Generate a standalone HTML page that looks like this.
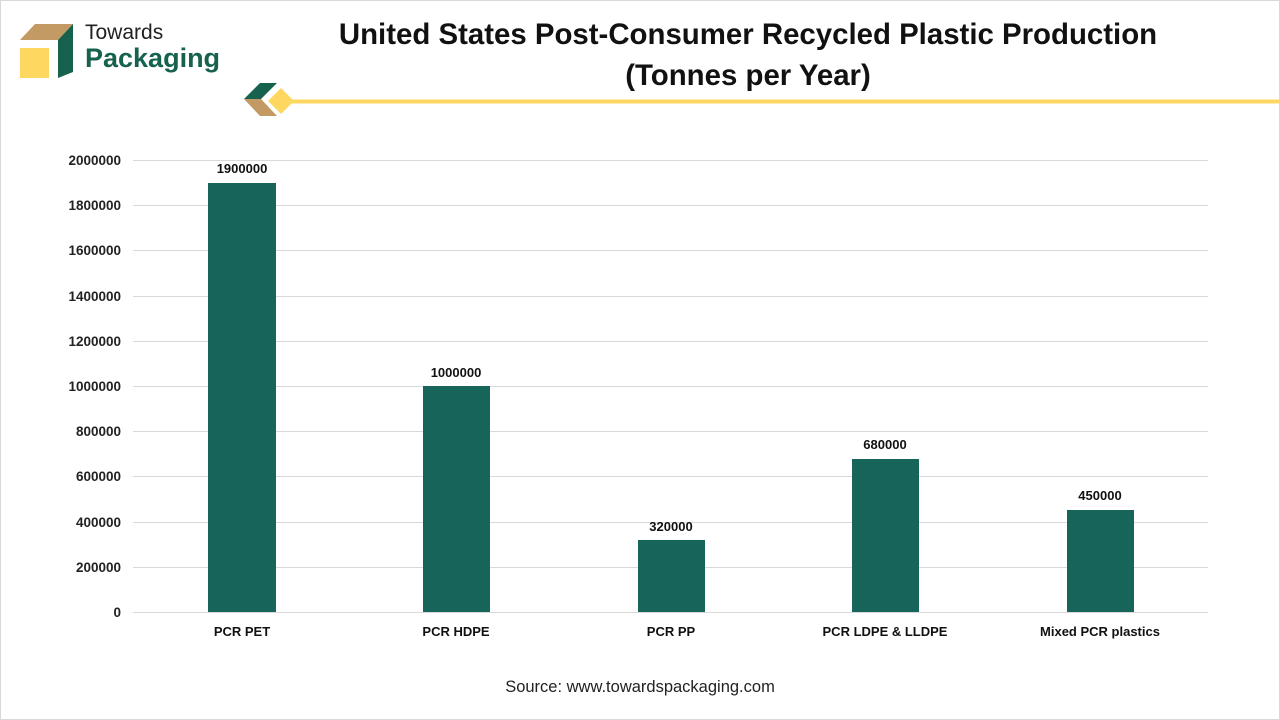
<!DOCTYPE html>
<html><head><meta charset="utf-8"><style>
body{margin:0;width:1280px;height:720px;background:#fff;overflow:hidden;font-family:"Liberation Sans",sans-serif;}
.frame{position:absolute;left:0;top:0;width:1278px;height:718px;border:1px solid #d9d9d9;}
</style></head><body>
<div class="frame"></div>
<svg width="1280" height="720" style="position:absolute;left:0;top:0">
<polygon points="20,40 35,24 73,24 58,40" fill="#c49a64"/>
<polygon points="58,40 73,24 73,72 58,78" fill="#17614f"/>
<rect x="20" y="48" width="29" height="30" fill="#fdd760"/>
<text x="85" y="39" font-size="21" fill="#222">Towards</text>
<text x="85" y="67" font-size="27" font-weight="bold" fill="#17614f">Packaging</text>
<polygon points="244,99 260,83 277,83 261,99" fill="#17614f"/>
<polygon points="244,99 261,99 277,116 260,116" fill="#c49a64"/>
<polygon points="268,101 281,88 294,101 281,114" fill="#fdd760"/>
<rect x="290" y="99.5" width="990" height="4" fill="#fdd760"/>
<text x="748" y="44" font-size="29.4" font-weight="bold" text-anchor="middle" fill="#111">United States Post-Consumer Recycled Plastic Production</text>
<text x="748" y="85" font-size="29.4" font-weight="bold" text-anchor="middle" fill="#111">(Tonnes per Year)</text>
<g stroke="#d9d9d9" stroke-width="1">
<line x1="133" x2="1208" y1="160.5" y2="160.5"/><line x1="133" x2="1208" y1="205.5" y2="205.5"/>
<line x1="133" x2="1208" y1="250.5" y2="250.5"/><line x1="133" x2="1208" y1="296.5" y2="296.5"/>
<line x1="133" x2="1208" y1="341.5" y2="341.5"/><line x1="133" x2="1208" y1="386.5" y2="386.5"/>
<line x1="133" x2="1208" y1="431.5" y2="431.5"/><line x1="133" x2="1208" y1="476.5" y2="476.5"/>
<line x1="133" x2="1208" y1="522.5" y2="522.5"/><line x1="133" x2="1208" y1="567.5" y2="567.5"/>
<line x1="133" x2="1208" y1="612.5" y2="612.5"/>
</g>
<g font-size="13.5" font-weight="bold" text-anchor="end" fill="#222">
<text x="121" y="165">2000000</text><text x="121" y="210">1800000</text><text x="121" y="255">1600000</text>
<text x="121" y="301">1400000</text><text x="121" y="346">1200000</text><text x="121" y="391">1000000</text>
<text x="121" y="436">800000</text><text x="121" y="481">600000</text><text x="121" y="527">400000</text>
<text x="121" y="572">200000</text><text x="121" y="617">0</text>
</g>
<g fill="#17645a">
<rect x="208" y="183" width="68" height="429"/>
<rect x="423" y="386" width="67" height="226"/>
<rect x="638" y="540" width="67" height="72"/>
<rect x="852" y="459" width="67" height="153"/>
<rect x="1067" y="510" width="67" height="102"/>
</g>
<g font-size="13" font-weight="bold" text-anchor="middle" fill="#111">
<text x="242" y="173">1900000</text><text x="456" y="377">1000000</text><text x="671" y="531">320000</text>
<text x="885" y="449">680000</text><text x="1100" y="500">450000</text>
<text x="242" y="636">PCR PET</text><text x="456" y="636">PCR HDPE</text><text x="671" y="636">PCR PP</text>
<text x="885" y="636">PCR LDPE &amp; LLDPE</text><text x="1100" y="636">Mixed PCR plastics</text>
</g>
<text x="640" y="692" font-size="16.5" text-anchor="middle" fill="#222">Source: www.towardspackaging.com</text>
</svg>
</body></html>
